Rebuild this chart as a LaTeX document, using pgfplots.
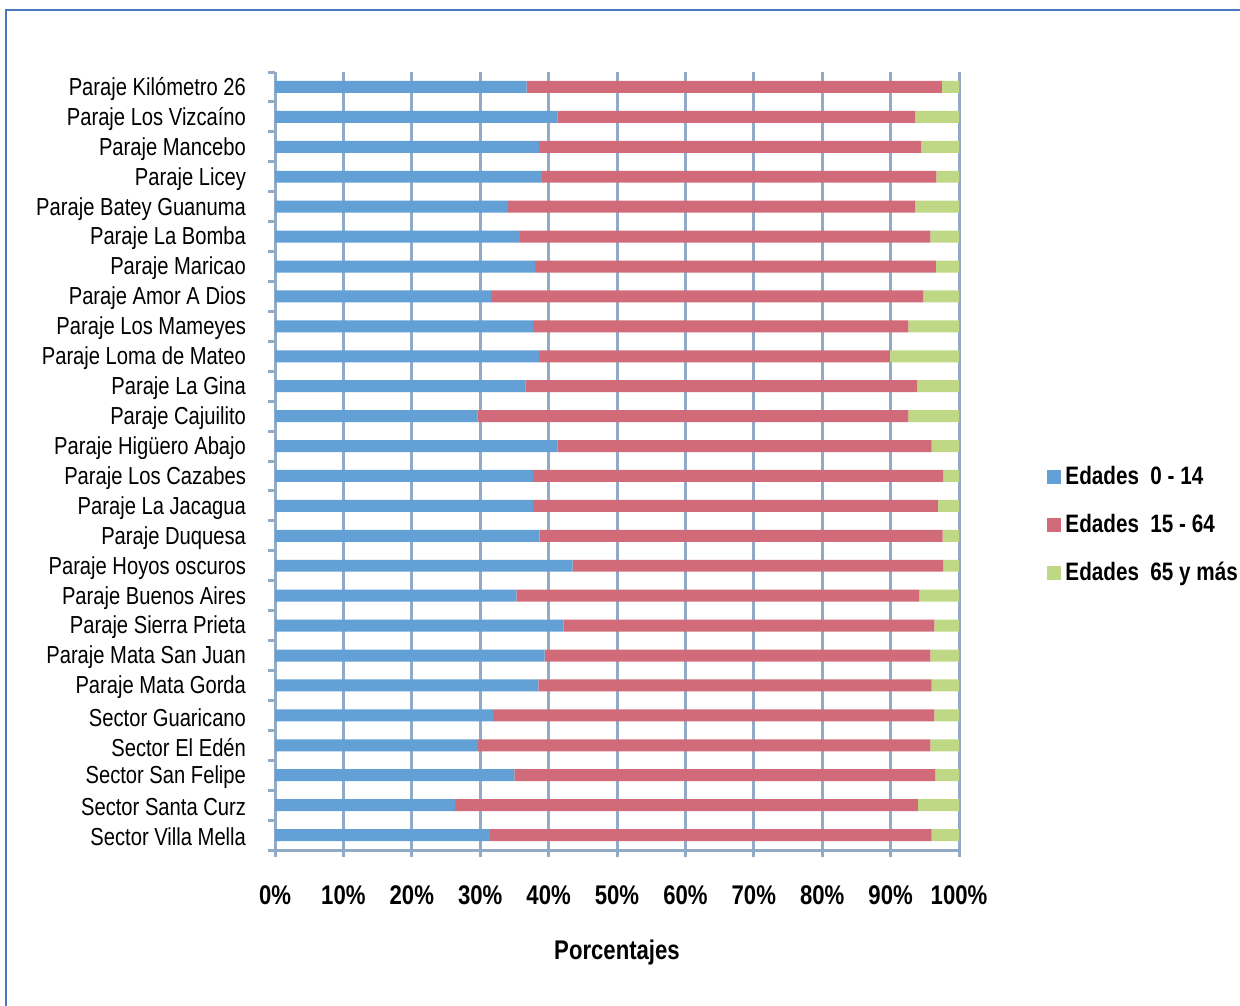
\documentclass[border=0pt]{standalone}
\usepackage{pgfplots}
\pgfplotsset{compat=1.18}
\usepackage{pgfplotstable}
\usepackage{fontspec}
\setmainfont{Liberation Sans}[FakeStretch=0.82]
\definecolor{cA}{RGB}{99,160,214}
\definecolor{cB}{RGB}{209,107,122}
\definecolor{cC}{RGB}{190,216,133}
\definecolor{gridc}{RGB}{145,170,200}
\definecolor{framec}{RGB}{70,120,190}
\pgfplotstableread{
y a b c
1 36.8 60.7 2.5
2 41.3 52.3 6.4
3 38.6 55.9 5.5
4 39.0 57.7 3.3
5 34.1 59.5 6.4
6 35.8 60.0 4.2
7 38.0 58.6 3.4
8 31.6 63.2 5.2
9 37.7 54.9 7.4
10 38.6 51.3 10.1
11 36.6 57.3 6.1
12 29.6 63.0 7.4
13 41.3 54.7 4.0
14 37.7 60.0 2.3
15 37.7 59.2 3.1
16 38.7 58.9 2.4
17 43.5 54.2 2.3
18 35.3 58.9 5.8
19 42.2 54.2 3.6
20 39.4 56.4 4.2
21 38.5 57.5 4.0
22 31.9 64.5 3.6
23 29.7 66.1 4.2
24 35.0 61.5 3.5
25 26.3 67.7 6.0
26 31.4 64.6 4.0
}\data
\begin{document}
\begin{tikzpicture}
\useasboundingbox (0,0) rectangle (620pt,-502.5pt);
\draw[framec, line width=1pt] (3.2pt,-5pt) rectangle (630pt,-510pt);
\begin{axis}[
  at={(137.5pt,-425pt)}, anchor=south west,
  scale only axis, width=342pt, height=389pt,
  xbar stacked, bar width=0.4,
  xmin=0, xmax=100,
  ymin=0.5, ymax=26.5, y dir=reverse,
  axis x line=bottom, axis y line=left,
  axis line style={gridc, line width=1.5pt, -},
  xtick={0,10,...,100},
  xticklabels={0\%,10\%,20\%,30\%,40\%,50\%,60\%,70\%,80\%,90\%,100\%},
  xticklabel style={font=\fontsize{13.5}{15}\selectfont\bfseries, yshift=-11pt},
  xmajorgrids, major grid style={gridc, line width=1.5pt},
  major x tick style={gridc, line width=1.5pt},
  tick align=outside, major tick length=3.5pt,
  ytick={1,...,26},
  yticklabels={Paraje Kilómetro 26,Paraje Los Vizcaíno,Paraje Mancebo,Paraje Licey,Paraje Batey Guanuma,Paraje La Bomba,Paraje Maricao,Paraje Amor A Dios,Paraje Los Mameyes,Paraje Loma de Mateo,Paraje La Gina,Paraje Cajuilito,Paraje Higüero Abajo,Paraje Los Cazabes,Paraje La Jacagua,Paraje Duquesa,Paraje Hoyos oscuros,Paraje Buenos Aires,Paraje Sierra Prieta,Paraje Mata San Juan,Paraje Mata Gorda,Sector Guaricano,Sector El Edén,Sector San Felipe,Sector Santa Curz,Sector Villa Mella},
  major y tick style={draw=none},
  minor ytick={0.5,1.5,...,26.5},
  minor y tick style={gridc, line width=1.5pt},
  minor tick length=3.5pt,
  yticklabel style={font=\fontsize{12.3}{14}\selectfont, xshift=-7.5pt, yshift=-1pt},
  xlabel={Porcentajes},
  xlabel style={font=\fontsize{13.5}{15}\selectfont\bfseries, at={(axis description cs:0.5,0)}, anchor=center, yshift=-51pt},
  legend style={draw=none, fill=none, at={(axis description cs:1.12,0.504)}, anchor=north west,
    font=\fontsize{12.6}{15}\selectfont\bfseries, row sep=9.3pt, cells={anchor=west},
    /tikz/every even column/.append style={column sep=0pt}},
  legend image code/.code={\fill[#1] (0pt,-3.5pt) rectangle (7pt,3.5pt);},
]
\addplot[fill=cA, draw=none] table[x=a, y=y] {\data};
\addplot[fill=cB, draw=none] table[x=b, y=y] {\data};
\addplot[fill=cC, draw=none] table[x=c, y=y] {\data};
\legend{Edades\ \ 0 - 14, Edades\ \ 15 - 64, Edades\ \ 65 y más}
\end{axis}
\end{tikzpicture}
\end{document}
